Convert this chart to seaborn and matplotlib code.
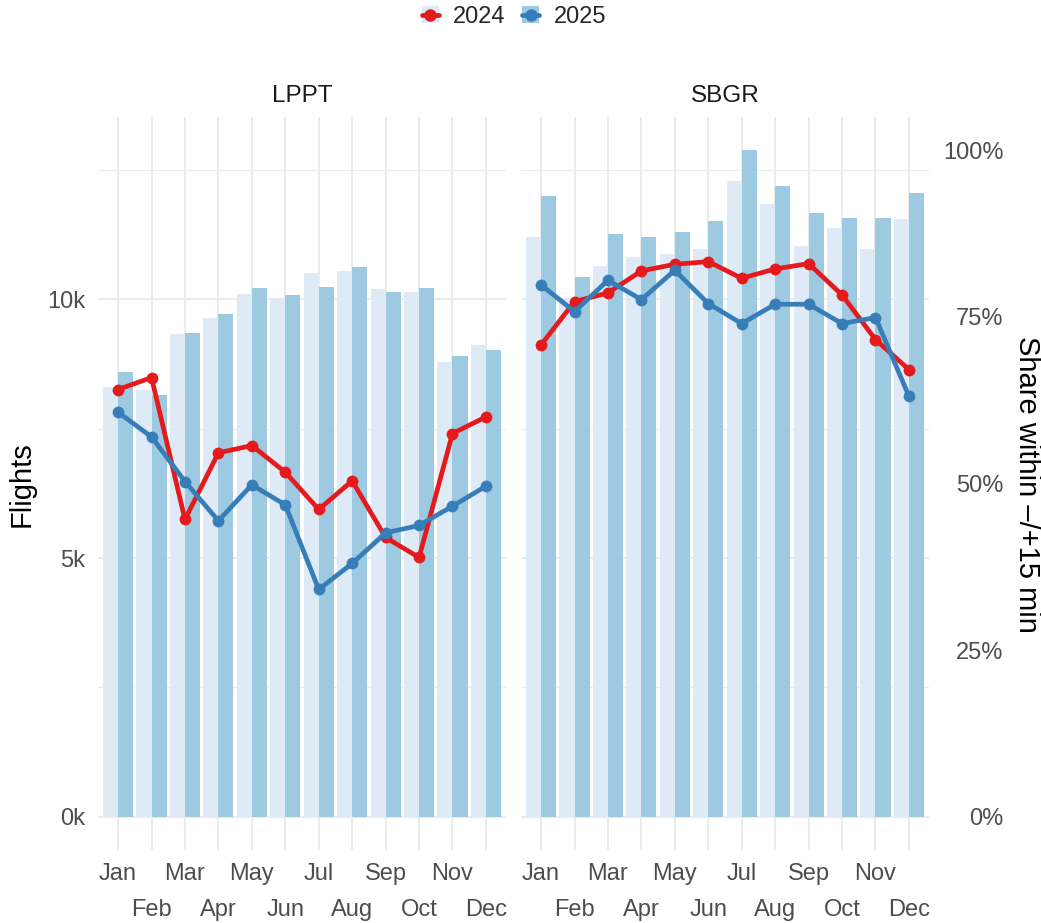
import numpy as np
import pandas as pd
import matplotlib
matplotlib.use("Agg")
import matplotlib.pyplot as plt
import seaborn as sns
from matplotlib.patches import Patch
from matplotlib.lines import Line2D
from matplotlib.ticker import FixedLocator, FixedFormatter

# ---------------- data ----------------
months = ["Jan", "Feb", "Mar", "Apr", "May", "Jun",
          "Jul", "Aug", "Sep", "Oct", "Nov", "Dec"]
airports = ["LPPT", "SBGR"]
years = ["2024", "2025"]

lppt_flights_2024 = [8310, 8250, 9320, 9630, 10100, 10010, 10500, 10540, 10190, 10150, 8780, 9110]
lppt_flights_2025 = [8590, 8150, 9340, 9710, 10210, 10080, 10230, 10620, 10150, 10210, 8900, 9030]
sbgr_flights_2024 = [11200, 10020, 10640, 10810, 10870, 10970, 12280, 11850, 11040, 11370, 10970, 11550]
sbgr_flights_2025 = [11990, 10440, 11270, 11200, 11310, 11510, 12880, 12190, 11660, 11580, 11580, 12050]

lppt_share_2024 = [0.641, 0.659, 0.446, 0.546, 0.557, 0.517, 0.461, 0.504, 0.419, 0.389, 0.575, 0.600]
lppt_share_2025 = [0.607, 0.570, 0.503, 0.444, 0.498, 0.468, 0.341, 0.380, 0.426, 0.437, 0.466, 0.496]
sbgr_share_2024 = [0.708, 0.773, 0.786, 0.819, 0.829, 0.833, 0.808, 0.822, 0.830, 0.783, 0.716, 0.671]
sbgr_share_2025 = [0.798, 0.758, 0.805, 0.776, 0.820, 0.770, 0.740, 0.769, 0.769, 0.740, 0.749, 0.631]

flights_ticks = [0, 5000, 10000]
flights_labels = ["0k", "5k", "10k"]
share_ticks = [0, 0.25, 0.5, 0.75, 1.0]
share_labels = ["0%", "25%", "50%", "75%", "100%"]

bar_colors = {"2024": "#deebf7", "2025": "#9ecae1"}
line_colors = {"2024": "#e41a1c", "2025": "#377eb8"}

flights = {("LPPT", "2024"): lppt_flights_2024, ("LPPT", "2025"): lppt_flights_2025,
           ("SBGR", "2024"): sbgr_flights_2024, ("SBGR", "2025"): sbgr_flights_2025}
shares = {("LPPT", "2024"): lppt_share_2024, ("LPPT", "2025"): lppt_share_2025,
          ("SBGR", "2024"): sbgr_share_2024, ("SBGR", "2025"): sbgr_share_2025}

rows = []
for ap in airports:
    for yr in years:
        for i, m in enumerate(months):
            rows.append(dict(airport=ap, year=yr, month=m, mi=i,
                             flights=flights[(ap, yr)][i], share=shares[(ap, yr)][i]))
df = pd.DataFrame(rows)

# ---------------- style ----------------
sns.set_theme(style="white")
plt.rcParams["font.family"] = ["Liberation Sans", "DejaVu Sans"]

W, H = 1041, 923
fig = plt.figure(figsize=(W / 100, H / 100), dpi=100)

fmax = df["flights"].max()
ylo, yhi = -0.05 * fmax, 1.05 * fmax

grid_c = "#EBEBEB"
tick_c = "#4D4D4D"
tick_fs = 17

panel_px = {"LPPT": (98, 506), "SBGR": (521, 929)}
top_px, bot_px = 117, 850

for k, ap in enumerate(airports):
    x0, x1 = panel_px[ap]
    ax = fig.add_axes([x0 / W, (H - bot_px) / H, (x1 - x0) / W, (bot_px - top_px) / H])
    d = df[df["airport"] == ap]
    sns.barplot(data=d, x="month", y="flights", hue="year", order=months,
                hue_order=years, palette=bar_colors, width=0.9, saturation=1,
                linewidth=0, legend=False, ax=ax, zorder=2)
    ax.set_xlim(-0.6, 11.6)
    ax.set_ylim(ylo, yhi)
    ax.set_xlabel("")
    ax.set_ylabel("")
    for s in ax.spines.values():
        s.set_visible(False)
    ax.set_axisbelow(True)
    ax.xaxis.set_major_locator(FixedLocator(list(range(12))))
    ax.xaxis.set_major_formatter(FixedFormatter(months))
    ax.yaxis.set_major_locator(FixedLocator(flights_ticks))
    ax.yaxis.set_minor_locator(FixedLocator([2500, 7500, 12500]))
    ax.grid(which="major", color=grid_c, linewidth=1.4)
    ax.grid(which="minor", axis="y", color=grid_c, linewidth=0.8)
    ax.tick_params(axis="both", which="both", length=0, labelsize=tick_fs, labelcolor=tick_c)
    if k == 0:
        ax.yaxis.set_major_formatter(FixedFormatter(flights_labels))
        ax.tick_params(axis="y", pad=9)
    else:
        ax.set_yticklabels([])
    for i, t in enumerate(ax.xaxis.get_major_ticks()):
        t.set_pad(9.5 if i % 2 == 0 else 35.5)

    ax2 = ax.twinx()
    sns.lineplot(data=d, x="mi", y="share", hue="year", hue_order=years,
                 palette=line_colors, marker="o", markersize=8.5, markeredgewidth=0,
                 linewidth=3.4, legend=False, ax=ax2)
    ax2.set_ylim(ylo / fmax, yhi / fmax)
    ax.set_xlim(-0.6, 11.6)
    ax2.set_xlabel("")
    ax2.set_ylabel("")
    for s in ax2.spines.values():
        s.set_visible(False)
    ax2.grid(False)
    if k == 1:
        ax2.yaxis.set_major_locator(FixedLocator(share_ticks))
        ax2.yaxis.set_major_formatter(FixedFormatter(share_labels))
        ax2.tick_params(axis="y", length=0, labelsize=tick_fs, labelcolor=tick_c, pad=53.5)
        for lab in ax2.get_yticklabels():
            lab.set_horizontalalignment("right")
    else:
        ax2.set_yticks([])

    fig.text(((x0 + x1) / 2) / W, 1 - 96 / H, ap, ha="center", va="center",
             fontsize=17.5, color="#1A1A1A")

fig.text(22 / W, 1 - 484 / H, "Flights", rotation=90, ha="center", va="center",
         fontsize=21, color="black")
fig.text(1027 / W, 1 - 484 / H, "Share within \u2013/+15 min", rotation=270,
         ha="center", va="center", fontsize=21, color="black")

handles = []
for yr in years:
    p = Patch(facecolor=bar_colors[yr], edgecolor="none")
    l = Line2D([], [], color=line_colors[yr], marker="o", markersize=9,
               markeredgewidth=0, linewidth=3.4)
    handles.append((p, l))
fig.legend(handles, years, loc="center", bbox_to_anchor=(514 / W, 1 - 17 / H),
           ncol=2, frameon=False, fontsize=17, handlelength=0.72, handleheight=0.72,
           handletextpad=0.62, columnspacing=0.7)

fig.savefig("out.png", dpi=100)
